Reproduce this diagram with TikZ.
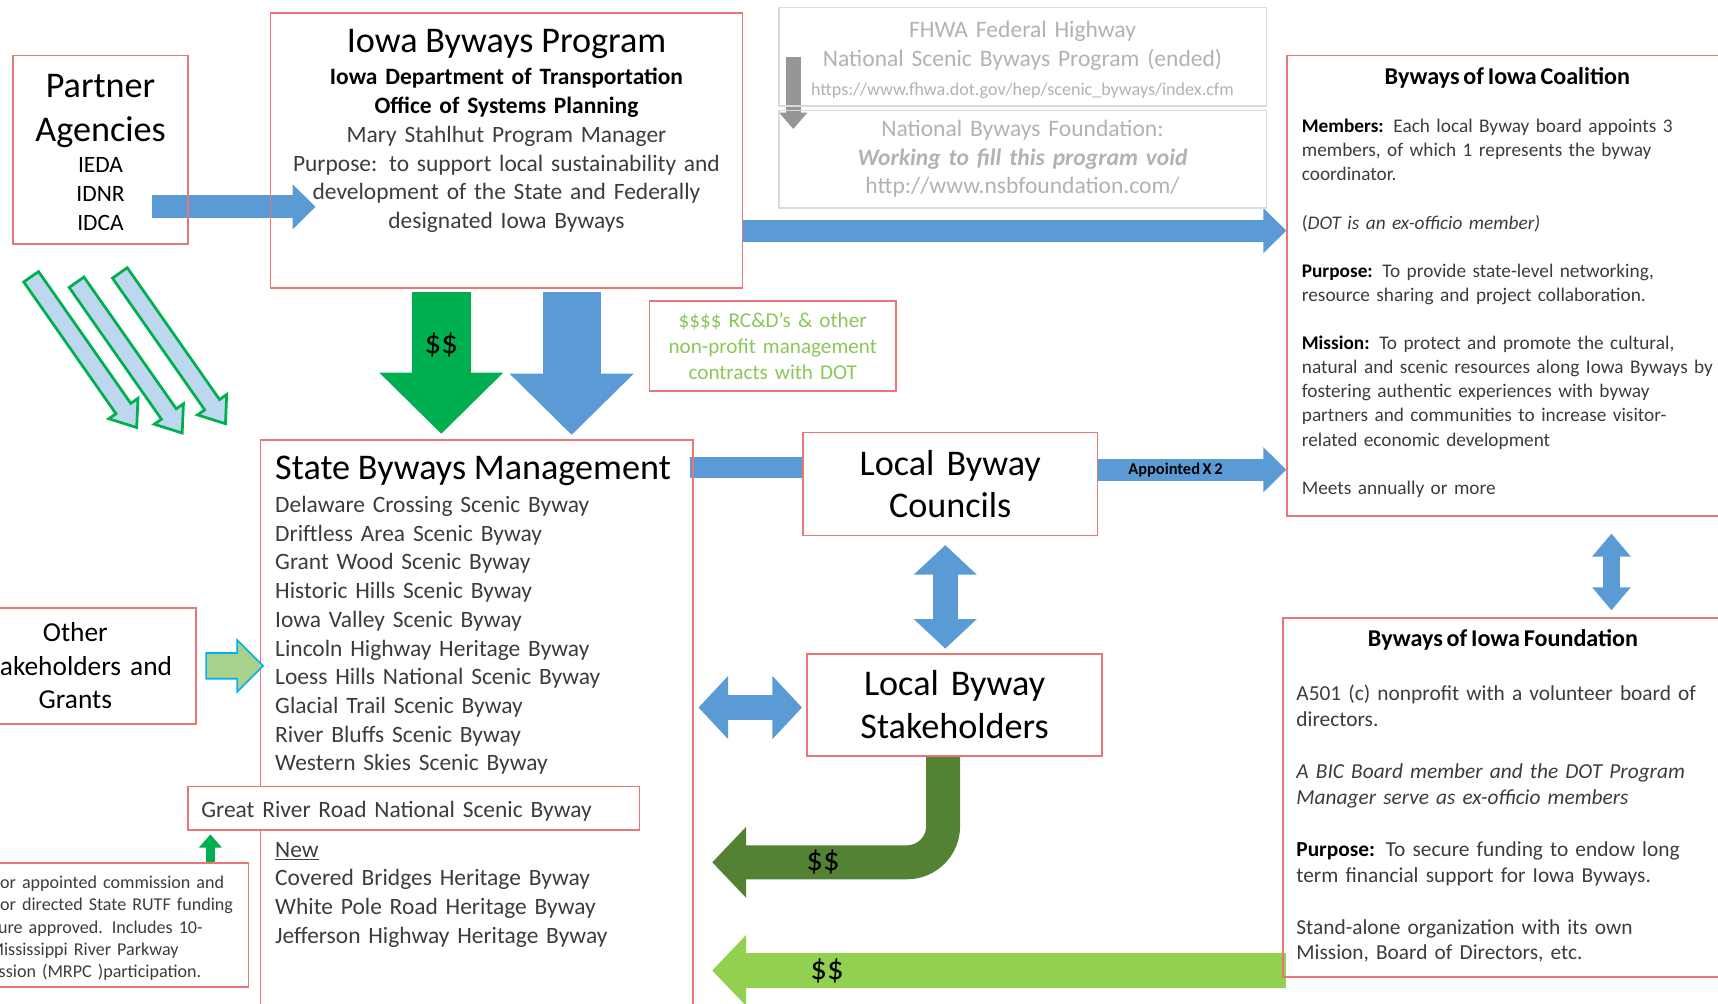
\documentclass[tikz,border=0pt]{standalone}
\usepackage{fontspec}
\setmainfont{Carlito}[WordSpace=0.7]
\usetikzlibrary{positioning,arrows.meta,shapes.arrows,calc}
\pgfdeclarelayer{background}
\pgfsetlayers{background,main}

\definecolor{boxred}{RGB}{232,118,118}
\definecolor{byblue}{RGB}{91,155,213}
\definecolor{bygreen}{RGB}{0,176,80}
\definecolor{darkgreen}{RGB}{84,130,53}
\definecolor{lightgreen}{RGB}{146,208,80}
\definecolor{rcdgreen}{RGB}{140,198,90}
\definecolor{fadegray}{RGB}{178,178,178}
\definecolor{linegray}{RGB}{218,218,218}
\definecolor{arrowgray}{RGB}{150,150,150}
\definecolor{bodytext}{RGB}{60,60,60}
\definecolor{paleblue}{RGB}{189,215,238}
\definecolor{palegreen}{RGB}{169,209,142}
\definecolor{cyanline}{RGB}{0,176,240}

\newcommand{\bigtxt}{\fontsize{33}{39.5}\selectfont}
\newcommand{\midtxt}{\fontsize{21.4}{26.2}\selectfont}
\newcommand{\smalltxt}{\fontsize{17.6}{22}\selectfont}

\begin{document}
\begin{tikzpicture}[x=1pt, y=-1pt, every node/.style={inner sep=0pt},
    box/.style={draw=boxred, line width=1.5pt, anchor=north west},
    graybox/.style={draw=linegray, line width=1.5pt, anchor=north west, text=fadegray, font=\fontsize{21.5}{26}\selectfont, align=center, text width=440pt},
    blockarrow/.style={byblue, line width=20pt, -{Triangle[length=21pt, width=40pt]}},
    bothways/.style={byblue, line width=23pt, {Triangle[length=27pt, width=56pt]}-{Triangle[length=27pt, width=56pt]}},
    downarrow/.style={line width=54pt, -{Triangle[length=56pt, width=110pt]}},
    hollowarrow/.style={single arrow, draw=bygreen, fill=paleblue, line width=2.5pt, inner ysep=7pt, minimum height=168pt, single arrow head extend=8pt, single arrow tip angle=75, rotate=-55},
    money/.style={text=black, font=\fontsize{30}{32}\selectfont}]
    \useasboundingbox (0,0) rectangle (1568,916);
    \clip (0,0) rectangle (1568,916);

    \node[box, minimum width=160pt, minimum height=172pt, text width=160pt, align=center, font=\midtxt] (partner) at (11,50) {{\bigtxt\rule{0pt}{26pt}Partner\\Agencies\par}\vspace{2.4pt}IEDA\\IDNR\\IDCA};
    \node[box, minimum width=431pt, minimum height=251pt] (program) at (246,11) {};
    \node[below=15.9pt of program.north, text width=420pt, align=center, font=\midtxt, text=bodytext] (programtxt) {{\bigtxt\color{black}Iowa Byways Program\par}\vspace{3.1pt}{\bfseries\color{black}Iowa Department of Transportation\\Office of Systems Planning\par}Mary Stahlhut Program Manager\\Purpose: to support local sustainability and\\development of the State and Federally\\designated Iowa Byways};

    \node[graybox, minimum width=445pt, minimum height=90pt] (fhwa) at (710,6) {\rule{0pt}{21pt}FHWA Federal Highway\\National Scenic Byways Program (ended)\par{\fontsize{16.5}{27}\selectfont https://www.fhwa.dot.gov/hep/scenic\_byways/index.cfm\par}};
    \node[graybox, minimum width=445pt, minimum height=89pt] (nbf) at (710,100) {National Byways Foundation:\\\textbf{\textit{Working to fill this program void}}\\http://www.nsbfoundation.com/};

    \node[box, minimum width=402pt, minimum height=420pt] (coalition) at (1174,50) {};
    \node[below=11.7pt of coalition.north, font=\fontsize{22}{26}\selectfont\bfseries] (coaltitle) {Byways of Iowa Coalition};
    \node[below right=58.6pt and 14pt of coalition.north west, text width=400pt, align=left, font=\smalltxt, text=bodytext] (coaltxt) {\textcolor{black}{\textbf{Members:}} Each local Byway board appoints 3\\members, of which 1 represents the byway\\coordinator.\\[22pt](\textit{DOT is an ex-officio member)}\\[22pt]\textcolor{black}{\textbf{Purpose:}} To provide state-level networking,\\resource sharing and project collaboration.\\[22pt]\textcolor{black}{\textbf{Mission:}} To protect and promote the cultural,\\natural and scenic resources along Iowa Byways by\\fostering authentic experiences with byway\\partners and communities to increase visitor-\\related economic development\\[22pt]Meets annually or more};

    \node[box, minimum width=402pt, minimum height=328pt] (foundation) at (1170,563) {};
    \node[below=11.7pt of foundation.north, font=\fontsize{22}{26}\selectfont\bfseries] (foundtitle) {Byways of Iowa Foundation};
    \node[below right=61.7pt and 13pt of foundation.north west, text width=400pt, align=left, font=\fontsize{19.5}{23.7}\selectfont, text=bodytext] (foundtxt) {A501 (c) nonprofit with a volunteer board of\\directors.\\[23.7pt]\textit{A BIC Board member and the DOT Program}\\\textit{Manager serve as ex-officio members}\\[23.7pt]\textcolor{black}{\textbf{Purpose:}} To secure funding to endow long\\term financial support for Iowa Byways.\\[23.7pt]Stand-alone organization with its own\\Mission, Board of Directors, etc.};

    \node[box, minimum width=395pt, minimum height=530pt] (state) at (237,401) {};
    \node[below right=14.9pt and 14pt of state.north west, text width=375pt, align=left, font=\midtxt, text=bodytext] (statetxt) {{\bigtxt\color{black}State Byways Management\par}\vspace{4.1pt}Delaware Crossing Scenic Byway\\Driftless Area Scenic Byway\\Grant Wood Scenic Byway\\Historic Hills Scenic Byway\\Iowa Valley Scenic Byway\\Lincoln Highway Heritage Byway\\Loess Hills National Scenic Byway\\Glacial Trail Scenic Byway\\River Bluffs Scenic Byway\\Western Skies Scenic Byway\\[52.4pt]\underline{New}\\Covered Bridges Heritage Byway\\White Pole Road Heritage Byway\\Jefferson Highway Heritage Byway};
    \node[box, fill=white, minimum width=412pt, minimum height=40pt, text width=388pt, align=left, font=\midtxt, text=bodytext] (grr) at (171,717) {\rule{0pt}{21pt}Great River Road National Scenic Byway};

    \node[box, minimum width=220pt, minimum height=106pt, text width=200pt, align=center, font=\fontsize{25}{30.5}\selectfont] (other) at (-42,554) {Other\\Stakeholders and\\Grants};
    \node[box, minimum width=280pt, minimum height=113pt] (rutf) at (-54,787) {};
    \node[below right=12.5pt and 5pt of rutf.north west, text width=270pt, align=left, font=\fontsize{16.5}{20.2}\selectfont, text=bodytext] (rutftxt) {Governor appointed commission and\\Governor directed State RUTF funding\\legislature approved. Includes 10-\\state Mississippi River Parkway\\Commission (MRPC )participation.};

    \node[box, minimum width=225pt, minimum height=82pt, text width=225pt, align=center, text=rcdgreen, font=\fontsize{19.3}{23.5}\selectfont] (rcd) at (592,274) {\$\$\$\$ RC\&D’s \& other\\non-profit management\\contracts with DOT};
    \node[box, minimum width=269pt, minimum height=94pt, text width=269pt, align=center, font=\fontsize{33}{39}\selectfont] (councils) at (732,394) {Local Byway\\Councils};
    \node[box, minimum width=269pt, minimum height=93pt, text width=269pt, align=center, font=\fontsize{33}{39}\selectfont] (stake) at (736,596) {Local Byway\\Stakeholders};

    \node[hollowarrow] (d1) at (73.5,317) {};
    \node[hollowarrow] (d2) at (115,322) {};
    \node[hollowarrow] (d3) at (154.5,313.5) {};
    \node[single arrow, draw=cyanline, fill=palegreen, line width=1.5pt, inner ysep=11pt, minimum height=52pt, single arrow head extend=12pt] (otherarrow) at ($(other.east)!0.5!(other.east -| state.west)$) {};

    \begin{pgfonlayer}{background}
    \draw[arrowgray, line width=14pt, -{Triangle[length=15pt, width=25pt]}] ([xshift=14pt]fhwa.west) -- ([xshift=14pt, yshift=27.5pt]nbf.west);
    \coordinate (pa) at ([xshift=-34pt, yshift=-52pt]partner.east);
    \draw[blockarrow, line width=21pt] (pa) -- ($(pa -| program.west)+(42,0)$);
    \coordinate (pc) at ([yshift=53pt]program.south east);
    \draw[blockarrow] (pc) -- (pc -| coalition.west);
    \coordinate (sb) at ([xshift=-4pt, yshift=-26pt]state.north east);
    \draw[byblue, line width=19pt] (sb) -- (sb -| councils.west);
    \coordinate (ca) at ([yshift=13pt]councils.east);
    \draw[blockarrow] (ca) -- (ca -| coalition.west) node[pos=0.41, text=black, font=\bfseries\fontsize{15}{16}\selectfont] {Appointed X 2};
    \coordinate (dtip) at (650,787);
    \draw[darkgreen, line width=31pt, rounded corners=33pt, -{Triangle[length=31pt, width=63pt]}] ([xshift=-10.5pt]stake.south) |- (dtip) node[pos=0.76, money] {\$\$};
    \coordinate (lg) at ([xshift=4pt, yshift=-158pt]foundation.west);
    \draw[lightgreen, line width=32pt, -{Triangle[length=31pt, width=63pt]}] (lg) -- (lg -| dtip) node[pos=0.8, money] {\$\$};
    \end{pgfonlayer}

    \draw[downarrow, bygreen] ([xshift=-59.5pt, yshift=-3pt]program.south) -- ([xshift=-32.5pt, yshift=5pt]state.north) node[pos=0.37, money] {\$\$};
    \draw[downarrow, byblue, line width=53pt] ([xshift=59.5pt, yshift=-3pt]program.south) -- ([xshift=86.5pt, yshift=4pt]state.north);
    \draw[bothways] ([xshift=-4.5pt, yshift=-8pt]councils.south) -- ([xshift=-8.5pt, yshift=4pt]stake.north);
    \coordinate (hs) at ([xshift=-4pt, yshift=-2.5pt]stake.west);
    \draw[bothways] ($(hs -| state.east)+(4,0)$) -- (hs);
    \draw[byblue, line width=16pt, {Triangle[length=21pt, width=34pt]}-{Triangle[length=21pt, width=34pt]}] ([xshift=95pt, yshift=-15.5pt]coalition.south) -- ([xshift=99pt, yshift=6pt]foundation.north);
    \coordinate (gu) at ([xshift=21pt, yshift=-3pt]grr.south west);
    \draw[bygreen, line width=8pt, -{Triangle[length=12pt, width=20pt]}] (gu |- rutf.north) -- (gu);
\end{tikzpicture}
\end{document}
